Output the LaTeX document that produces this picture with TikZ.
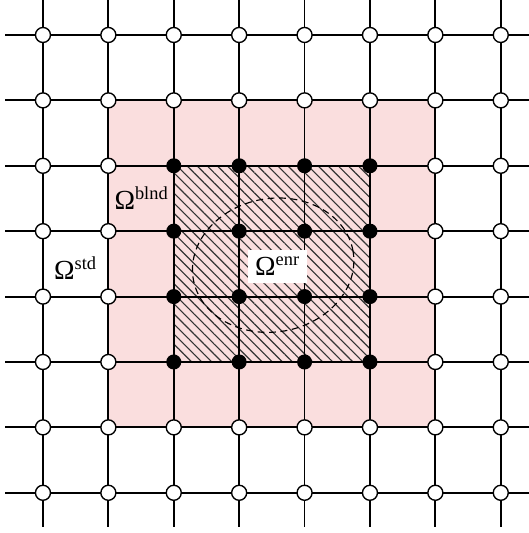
\documentclass[tikz,border=0pt]{standalone}
\usepackage{fontspec}
\setmainfont{Liberation Serif}
\usetikzlibrary{patterns.meta}
\definecolor{blndpink}{RGB}{250,222,222}

\begin{document}
\begin{tikzpicture}[font=\fontsize{12}{14}\selectfont,
  gridline/.style={line width=0.8pt},
  opennode/.style={circle, draw, line width=0.6pt, fill=white, inner sep=0pt, minimum size=2.3mm},
  enrnode/.style={circle, fill=black, inner sep=0pt, minimum size=2.3mm}]
  \useasboundingbox (-0.657,0.535) rectangle (7.431,-7.615);
  % Mischgebiet
  \fill[blndpink] (1,-1) rectangle (6,-6);
  % angereichertes Gebiet
  \fill[pattern={Lines[angle=-45,distance=3.1pt,line width=0.5pt]}, pattern color=black!80] (2,-2) rectangle (5,-5);
  % Gitterlinien
  \foreach \i in {0,...,7} {
    \coordinate (w-\i) at (-0.58,-\i);
    \coordinate (e-\i) at (7.431,-\i);
    \coordinate (t-\i) at (\i,0.535);
    \coordinate (b-\i) at (\i,-7.52);
    \draw[gridline] (w-\i) -- (e-\i);
    \draw[gridline] (t-\i) -- (b-\i);
  }
  % Grenzflaeche
  \draw[line width=0.5pt, dash pattern=on 3pt off 2pt, rotate around={10:(3.52,-3.52)}]
    (3.52,-3.52) ellipse [x radius=1.24, y radius=1.02];
  % Knoten
  \foreach \i in {0,...,7}
    \foreach \j in {0,...,7} {
      \pgfmathtruncatemacro\isenr{(\i>1)&&(\i<6)&&(\j>1)&&(\j<6)}
      \ifnum\isenr=1
        \node[enrnode] (n-\i-\j) at (\i,-\j) {};
      \else
        \node[opennode] (n-\i-\j) at (\i,-\j) {};
      \fi
    }
  % Beschriftungen
  \node (std) at (0.50,-3.56) {Ω\textsuperscript{std}};
  \node (blnd) at (1.51,-2.49) {Ω\textsuperscript{blnd}};
  \node[fill=white, inner sep=3pt] (enr) at (3.59,-3.54) {Ω\textsuperscript{enr}};
\end{tikzpicture}
\end{document}
